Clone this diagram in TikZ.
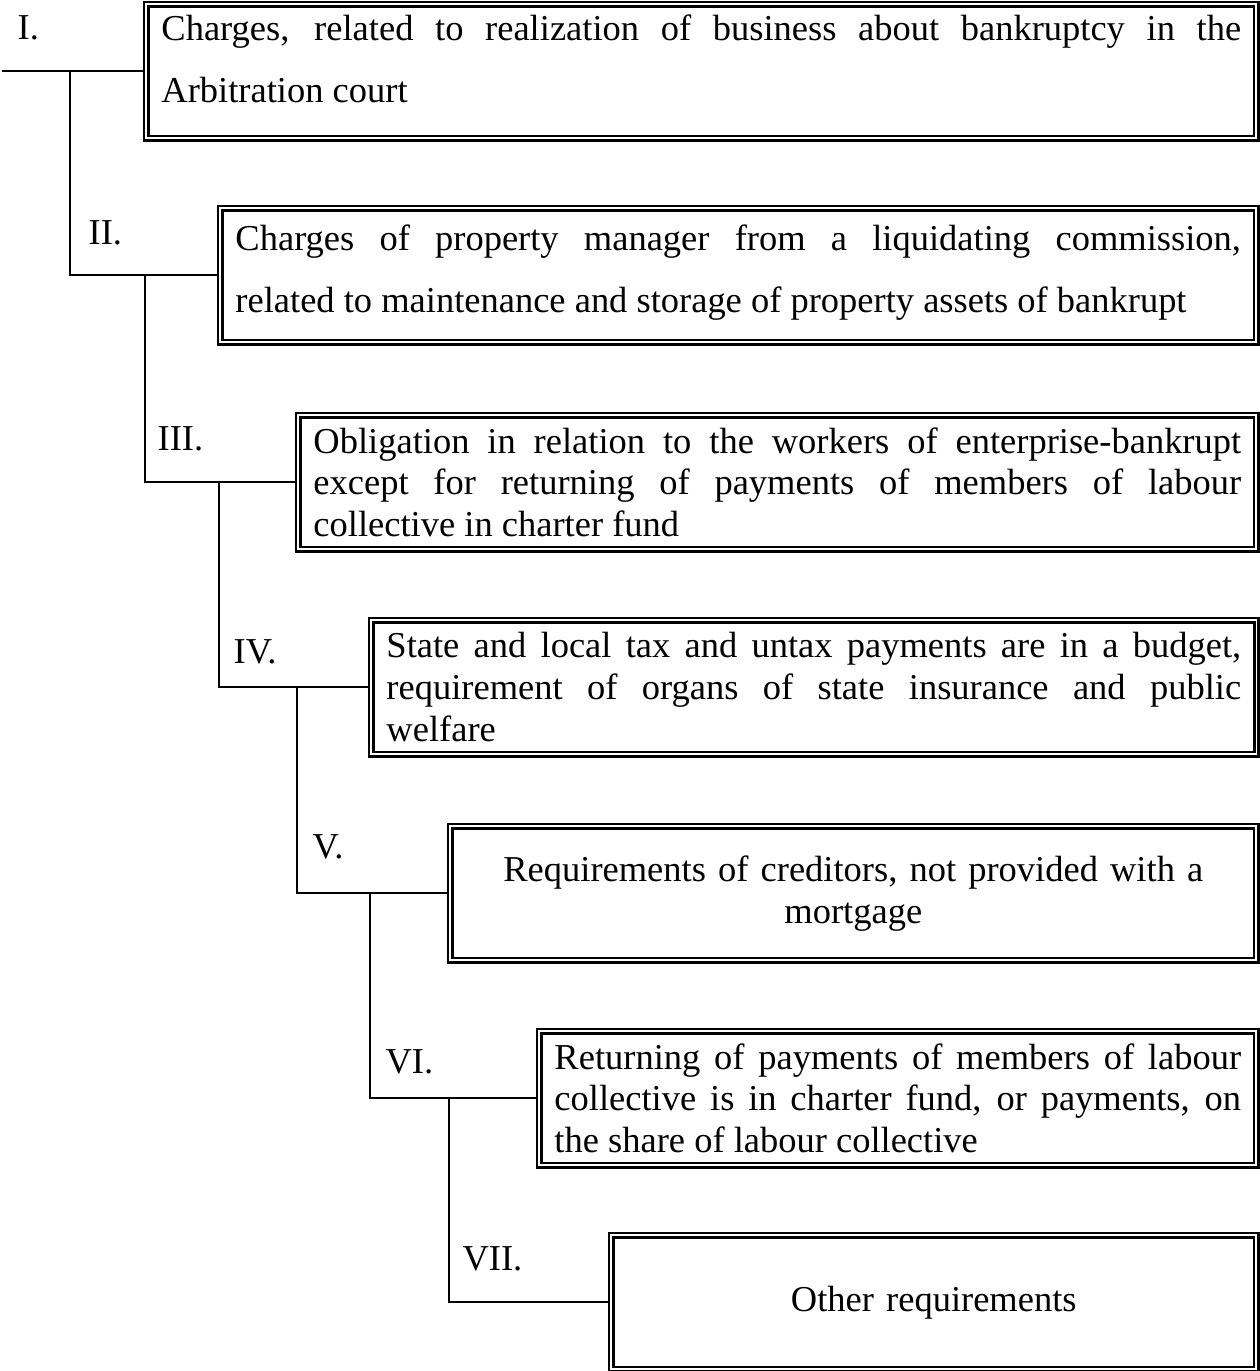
\documentclass[tikz,border=0pt]{standalone}
\usepackage{fontspec}
\setmainfont{Liberation Serif}
\usetikzlibrary{calc}
\tikzset{
  stage/.style={draw,double,double distance=0.6pt,line width=0.85pt,anchor=north west,
    minimum height=44.1pt,inner xsep=5pt,inner ysep=2pt,align=justify,
    font=\fontsize{12}{13.8}\selectfont},
  wide/.style={font=\fontsize{12}{20.4}\selectfont},
  num/.style={anchor=base west,inner sep=0pt,font=\fontsize{12}{13.8}\selectfont},
  link/.style={line width=0.65pt},
}
\newcommand{\lowend}[1]{\rule[-#1]{0pt}{#1}}

\begin{document}
\begin{tikzpicture}[x=0.329pt,y=-0.329pt]
  \useasboundingbox (0,0) rectangle (1259,1371);
  % stages of the order
  \node[stage,wide,text width=355.2pt] (s1) at (145,3)
    {Charges, related to realization of business about bankruptcy in the\linebreak
     Arbitration court\lowend{8.6pt}};
  \node[stage,wide,text width=330.8pt] (s2) at (219,207)
    {Charges of property manager from a liquidating commission,\linebreak
     related to maintenance and storage of property assets of bankrupt\lowend{4.4pt}};
  \node[stage,text width=305.2pt] (s3) at (297,414)
    {Obligation in relation to the workers of enterprise-bankrupt\linebreak
     except for returning of payments of members of labour\linebreak
     collective in charter fund};
  \node[stage,text width=281.2pt] (s4) at (370,619)
    {State and local tax and untax payments are in a budget,\linebreak
     requirement of organs of state insurance and public\linebreak
     welfare};
  \node[stage,align=center,text width=255.2pt] (s5) at (449,825)
    {Requirements of creditors, not provided with a\\ mortgage};
  \node[stage,text width=225.9pt] (s6) at (538,1030)
    {Returning of payments of members of labour\linebreak
     collective is in charter fund, or payments, on\linebreak
     the share of labour collective};
  \node[stage,align=center,text width=202.2pt] (s7) at (610,1234)
    {Other requirements};
  % numbers
  \node[num] (n1) at (17,39) {I.};
  \node[num] (n2) at (88,244) {II.};
  \node[num] (n3) at (157,450) {III.};
  \node[num] (n4) at (233,663) {IV.};
  \node[num] (n5) at (312,858) {V.};
  \node[num] (n6) at (385,1073) {VI.};
  \node[num] (n7) at (462,1270) {VII.};
  % ladder
  \draw[link] (s1.west) -- ++(-143,0);
  \draw[link] ($(s1.west)+(-75,0)$) |- (s2.west);
  \draw[link] (s2.west -| s1.west) |- (s3.west);
  \draw[link] (s3.west -| s2.west) |- (s4.west);
  \draw[link] (s4.west -| s3.west) |- (s5.west);
  \draw[link] (s5.west -| s4.west) |- (s6.west);
  \draw[link] (s6.west -| s5.west) |- (s7.west);
\end{tikzpicture}
\end{document}
